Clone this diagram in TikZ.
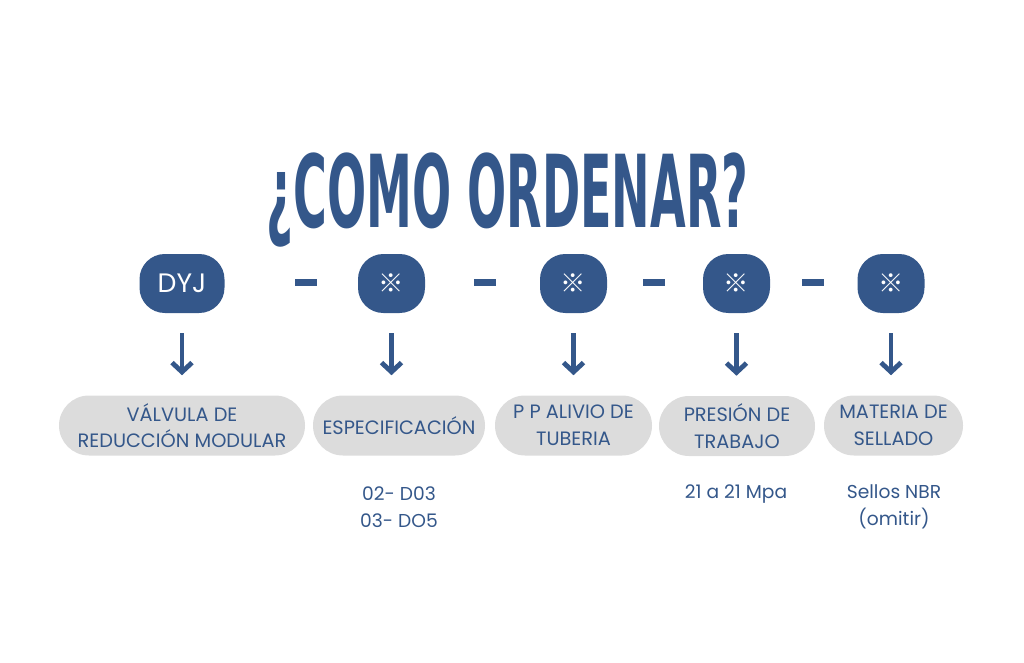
\documentclass[tikz,border=0pt]{standalone}
\usepackage{fontspec}
\usepackage{graphicx}
\setmainfont{Poppins}
\newfontfamily\symfont{Noto Sans CJK JP}
\newfontfamily\titlefont{DejaVu Sans Condensed}[BoldFont={DejaVu Sans Condensed Bold}]
\usetikzlibrary{arrows.meta,shapes.misc}
\definecolor{navy}{HTML}{34578A}
\definecolor{pillgray}{HTML}{DCDCDC}
\tikzset{
  topbox/.style={fill=navy, text=white, rounded corners=19pt, minimum height=44.25pt, inner sep=0pt, font=\fontsize{20}{20}\selectfont},
  refmark/.style={topbox, minimum width=50.25pt, font=\symfont\fontsize{19}{19}\selectfont},
  lowbox/.style={fill=pillgray, text=navy, rounded rectangle, minimum height=45pt, inner sep=0pt, align=center, font=\fontsize{14.5}{20}\selectfont},
  valtext/.style={text=navy, align=center, inner sep=0pt, font=\fontsize{14}{20}\selectfont},
  dashbar/.style={fill=navy, minimum width=16.5pt, minimum height=5.25pt, inner sep=0pt},
  arr/.style={draw=navy, line width=3.6pt, -{Straight Barb[length=7pt,width=15pt,line width=3.6pt]}}
}
\begin{document}
\begin{tikzpicture}[x=0.75pt,y=-0.75pt]
\useasboundingbox (0,0) rectangle (1024,663);
% title
\node[anchor=base, inner sep=0pt, text=navy] (title) at (507.5,227)
  {\resizebox{361pt}{56pt}{\titlefont\bfseries ¿COMO ORDENAR?}};
% top boxes
\node[topbox, minimum width=63.75pt] (t1) at (182,283.5) {DYJ};
\node[refmark] (t2) at (391.5,283.5) {※};
\node[refmark] (t3) at (573.5,283.5) {※};
\node[refmark] (t4) at (736.5,283.5) {※};
\node[refmark] (t5) at (891,283.5) {※};
% separators
\node[dashbar] (d1) at (305.5,282.5) {};
\node[dashbar] (d2) at (484.5,282.5) {};
\node[dashbar] (d3) at (654,282.5) {};
\node[dashbar] (d4) at (813,282.5) {};
% lower boxes
\node[lowbox, minimum width=184.5pt] (b1) at (182,425.5) {VÁLVULA DE\\REDUCCIÓN MODULAR};
\node[lowbox, minimum width=129pt] (b2) at (399,425.5) {ESPECIFICACIÓN};
\node[lowbox, minimum width=117.75pt] (b3) at (573.5,425.5) {P P ALIVIO DE\\TUBERIA};
\node[lowbox, minimum width=117pt] (b4) at (737,426) {PRESIÓN DE\\TRABAJO};
\node[lowbox, minimum width=104.25pt] (b5) at (893.5,425.5) {MATERIA DE\\SELLADO};
% arrows
\foreach \i in {1,...,5}{
  \draw[arr] ([yshift=-15pt]t\i.south) -- ([yshift=15pt]t\i.south |- b\i.north);
}
% values
\node[valtext] (v2) at (399,507) {02- D03\\03- DO5};
\node[valtext] (v4) at (736,494) {21 a 21 Mpa};
\node[valtext] (v5) at (894,507) {Sellos NBR\\(omitir)};
\end{tikzpicture}
\end{document}
